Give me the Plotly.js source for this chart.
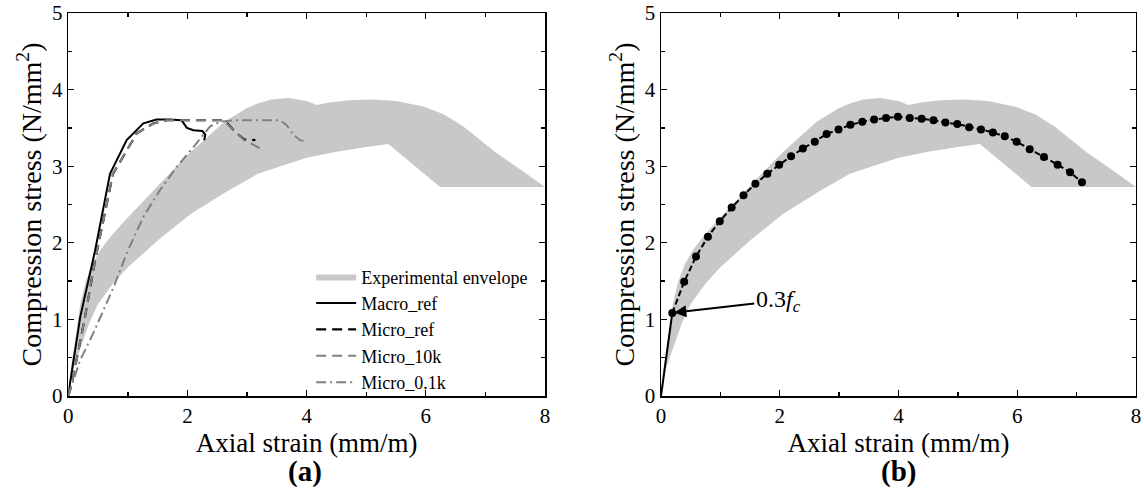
<!DOCTYPE html>
<html><head><meta charset="utf-8">
<script src="https://cdn.plot.ly/plotly-3.0.1.min.js"></script>
<style>html,body{margin:0;padding:0;background:#fff}#chart{width:1144px;height:495px}</style>
</head><body><div id="chart"></div>
<script>
// Experimental envelope (upper boundary left->right, lower boundary right->left)
const envUpperX = [0,0.05,0.12,0.2,0.29,0.4,0.55,0.7,0.9,1.2,1.5,1.84,2.06,2.4,2.62,3.0,3.18,3.4,3.7,4.0,4.17,4.35,4.7,5.1,5.5,5.96,6.3,6.63,6.9,7.19,7.6,8.0];
const envUpperY = [0,0.4,0.75,1.2,1.49,1.72,1.92,2.07,2.25,2.5,2.75,3.02,3.19,3.43,3.58,3.76,3.82,3.87,3.89,3.85,3.80,3.83,3.86,3.87,3.85,3.78,3.68,3.52,3.35,3.17,2.95,2.73];
const envLowerX = [8.0,6.24,5.37,5.0,4.5,4.0,3.18,2.62,2.06,1.5,1.27,1.0,0.75,0.5,0.35,0.2,0.08,0];
const envLowerY = [2.73,2.73,3.29,3.25,3.19,3.11,2.9,2.65,2.38,2.03,1.87,1.68,1.47,1.2,0.95,0.62,0.35,0];

// Panel (a) numerical curves
const macroRefX = [0,0.03,0.2,0.45,0.7,0.98,1.26,1.48,1.7,1.9,1.99,2.1,2.25,2.3,2.28];
const macroRefY = [0,0.17,1.03,1.9,2.9,3.34,3.56,3.61,3.61,3.6,3.5,3.47,3.46,3.41,3.34];
const microRefX = [0,0.06,0.28,0.45,0.75,1.15,1.43,1.65,2.1,2.62,2.8,2.95,3.14];
const microRefY = [0,0.16,1.03,1.77,2.9,3.43,3.56,3.6,3.6,3.6,3.45,3.35,3.34];
const micro10kX = [0,0.06,0.28,0.45,0.75,1.15,1.43,1.65,2.1,2.62,2.68,2.8,2.95,3.08,3.3];
const micro10kY = [0,0.16,1.03,1.77,2.9,3.43,3.56,3.6,3.6,3.6,3.54,3.45,3.34,3.29,3.2];
const micro01kX = [0,0.2,0.42,0.76,1.0,1.26,1.54,1.82,2.1,2.38,2.55,2.8,3.1,3.55,3.66,3.78,3.89,3.95];
const micro01kY = [0,0.47,0.82,1.42,1.9,2.34,2.69,2.99,3.25,3.52,3.58,3.6,3.6,3.6,3.54,3.41,3.34,3.33];

// Panel (b) model curve
const modelX = [0,0.19,0.39,0.59,0.79,0.99,1.19,1.39,1.59,1.79,1.99,2.19,2.39,2.59,2.79,2.99,3.19,3.39,3.59,3.79,3.99,4.19,4.39,4.59,4.79,4.99,5.19,5.39,5.59,5.79,5.99,6.21,6.45,6.68,6.89,7.09];
const modelY = [0,1.085,1.49,1.82,2.08,2.28,2.46,2.62,2.77,2.90,3.02,3.13,3.23,3.32,3.42,3.48,3.54,3.58,3.61,3.63,3.645,3.63,3.62,3.6,3.57,3.55,3.51,3.48,3.44,3.39,3.32,3.22,3.12,3.02,2.92,2.79];

const xTicks = [0,2,4,6,8];
const yTicks = [0,1,2,3,4,5];

const FONT = 'Liberation Serif';
const GRAY = '#c8c8c8';
const LGRAY = '#808080';

const envX = envUpperX.concat(envLowerX);
const envY = envUpperY.concat(envLowerY);

const traces = [
  {x: envX, y: envY, xaxis:'x', yaxis:'y', type:'scatter', mode:'lines', fill:'toself', fillcolor:GRAY, line:{width:0,color:GRAY}, name:'Experimental envelope'},
  {x: macroRefX, y: macroRefY, xaxis:'x', yaxis:'y', type:'scatter', mode:'lines', line:{color:'#000',width:2}, name:'Macro_ref'},
  {x: microRefX, y: microRefY, xaxis:'x', yaxis:'y', type:'scatter', mode:'lines', line:{color:'#000',width:2.2,dash:'10px,6px'}, name:'Micro_ref'},
  {x: micro10kX, y: micro10kY, xaxis:'x', yaxis:'y', type:'scatter', mode:'lines', line:{color:LGRAY,width:2,dash:'10px,6px'}, name:'Micro_10k'},
  {x: micro01kX, y: micro01kY, xaxis:'x', yaxis:'y', type:'scatter', mode:'lines', line:{color:LGRAY,width:2,dash:'10px,4px,2px,4px'}, name:'Micro_0.1k'},
  {x: envX, y: envY, xaxis:'x2', yaxis:'y2', type:'scatter', mode:'lines', fill:'toself', fillcolor:GRAY, line:{width:0,color:GRAY}, showlegend:false},
  {x: modelX.slice(0,2), y: modelY.slice(0,2), xaxis:'x2', yaxis:'y2', type:'scatter', mode:'lines', line:{color:'#000',width:2}, showlegend:false},
  {x: modelX.slice(1), y: modelY.slice(1), xaxis:'x2', yaxis:'y2', type:'scatter', mode:'lines+markers', line:{color:'#000',width:2,dash:'6px,3px'}, marker:{color:'#000',size:8}, showlegend:false}
];

function xax(domain, anchor){
  return {domain:domain, anchor:anchor, range:[0,8], tickvals:xTicks, ticktext:xTicks.map(String),
    ticks:'inside', ticklen:6, tickwidth:1.3, tickcolor:'#000',
    minor:{tickvals:[1,3,5,7], ticks:'inside', ticklen:4, tickwidth:1.3, tickcolor:'#000'},
    showline:true, linecolor:'#000', linewidth:1.5, mirror:'ticks', showgrid:false, zeroline:false,
    tickfont:{family:FONT,size:21,color:'#000'},
    title:{text:'Axial strain (mm/m)', font:{family:FONT,size:27,color:'#000'}, standoff:2}};
}
function yax(anchor){
  return {domain:[0.2,0.9737], anchor:anchor, range:[0,5], tickvals:yTicks, ticktext:yTicks.map(String),
    ticks:'inside', ticklen:6, tickwidth:1.3, tickcolor:'#000',
    minor:{tickvals:[0.5,1.5,2.5,3.5,4.5], ticks:'inside', ticklen:4, tickwidth:1.3, tickcolor:'#000'},
    showline:true, linecolor:'#000', linewidth:1.5, mirror:'ticks', showgrid:false, zeroline:false,
    tickfont:{family:FONT,size:21,color:'#000'},
    title:{text:'Compression stress (N/mm<sup>2</sup>)', font:{family:FONT,size:28,color:'#000'}, standoff:2}};
}

const layout = {
  width:1144, height:495, margin:{l:0,r:0,t:0,b:0}, paper_bgcolor:'#fff', plot_bgcolor:'#fff',
  font:{family:FONT,color:'#000'},
  xaxis: xax([0.0597,0.4764],'y'),
  yaxis: yax('x'),
  xaxis2: xax([0.5778,0.993],'y2'),
  yaxis2: yax('x2'),
  showlegend:true,
  legend:{x:0.272, y:0.478, xanchor:'left', yanchor:'top', bgcolor:'rgba(0,0,0,0)', borderwidth:0,
    font:{family:FONT,size:18,color:'#000'}, itemwidth:40, tracegroupgap:0},
  annotations:[
    {xref:'paper', yref:'paper', x:0.2666, y:0.048, xanchor:'center', yanchor:'middle', text:'<b>(a)</b>', showarrow:false, font:{family:FONT,size:29,color:'#000'}},
    {xref:'paper', yref:'paper', x:0.785, y:0.048, xanchor:'center', yanchor:'middle', text:'<b>(b)</b>', showarrow:false, font:{family:FONT,size:29,color:'#000'}},
    {xref:'x2', yref:'y2', x:modelX[1], y:modelY[1], text:'0.3<i>f</i><sub><i>c</i></sub>', showarrow:true,
      arrowhead:2, arrowsize:1.2, arrowwidth:2, arrowcolor:'#000', ax:106, ay:-12, standoff:2,
      font:{family:FONT,size:24,color:'#000'}}
  ]
};

Plotly.newPlot('chart', traces, layout, {displayModeBar:false, staticPlot:true});
</script></body></html>
